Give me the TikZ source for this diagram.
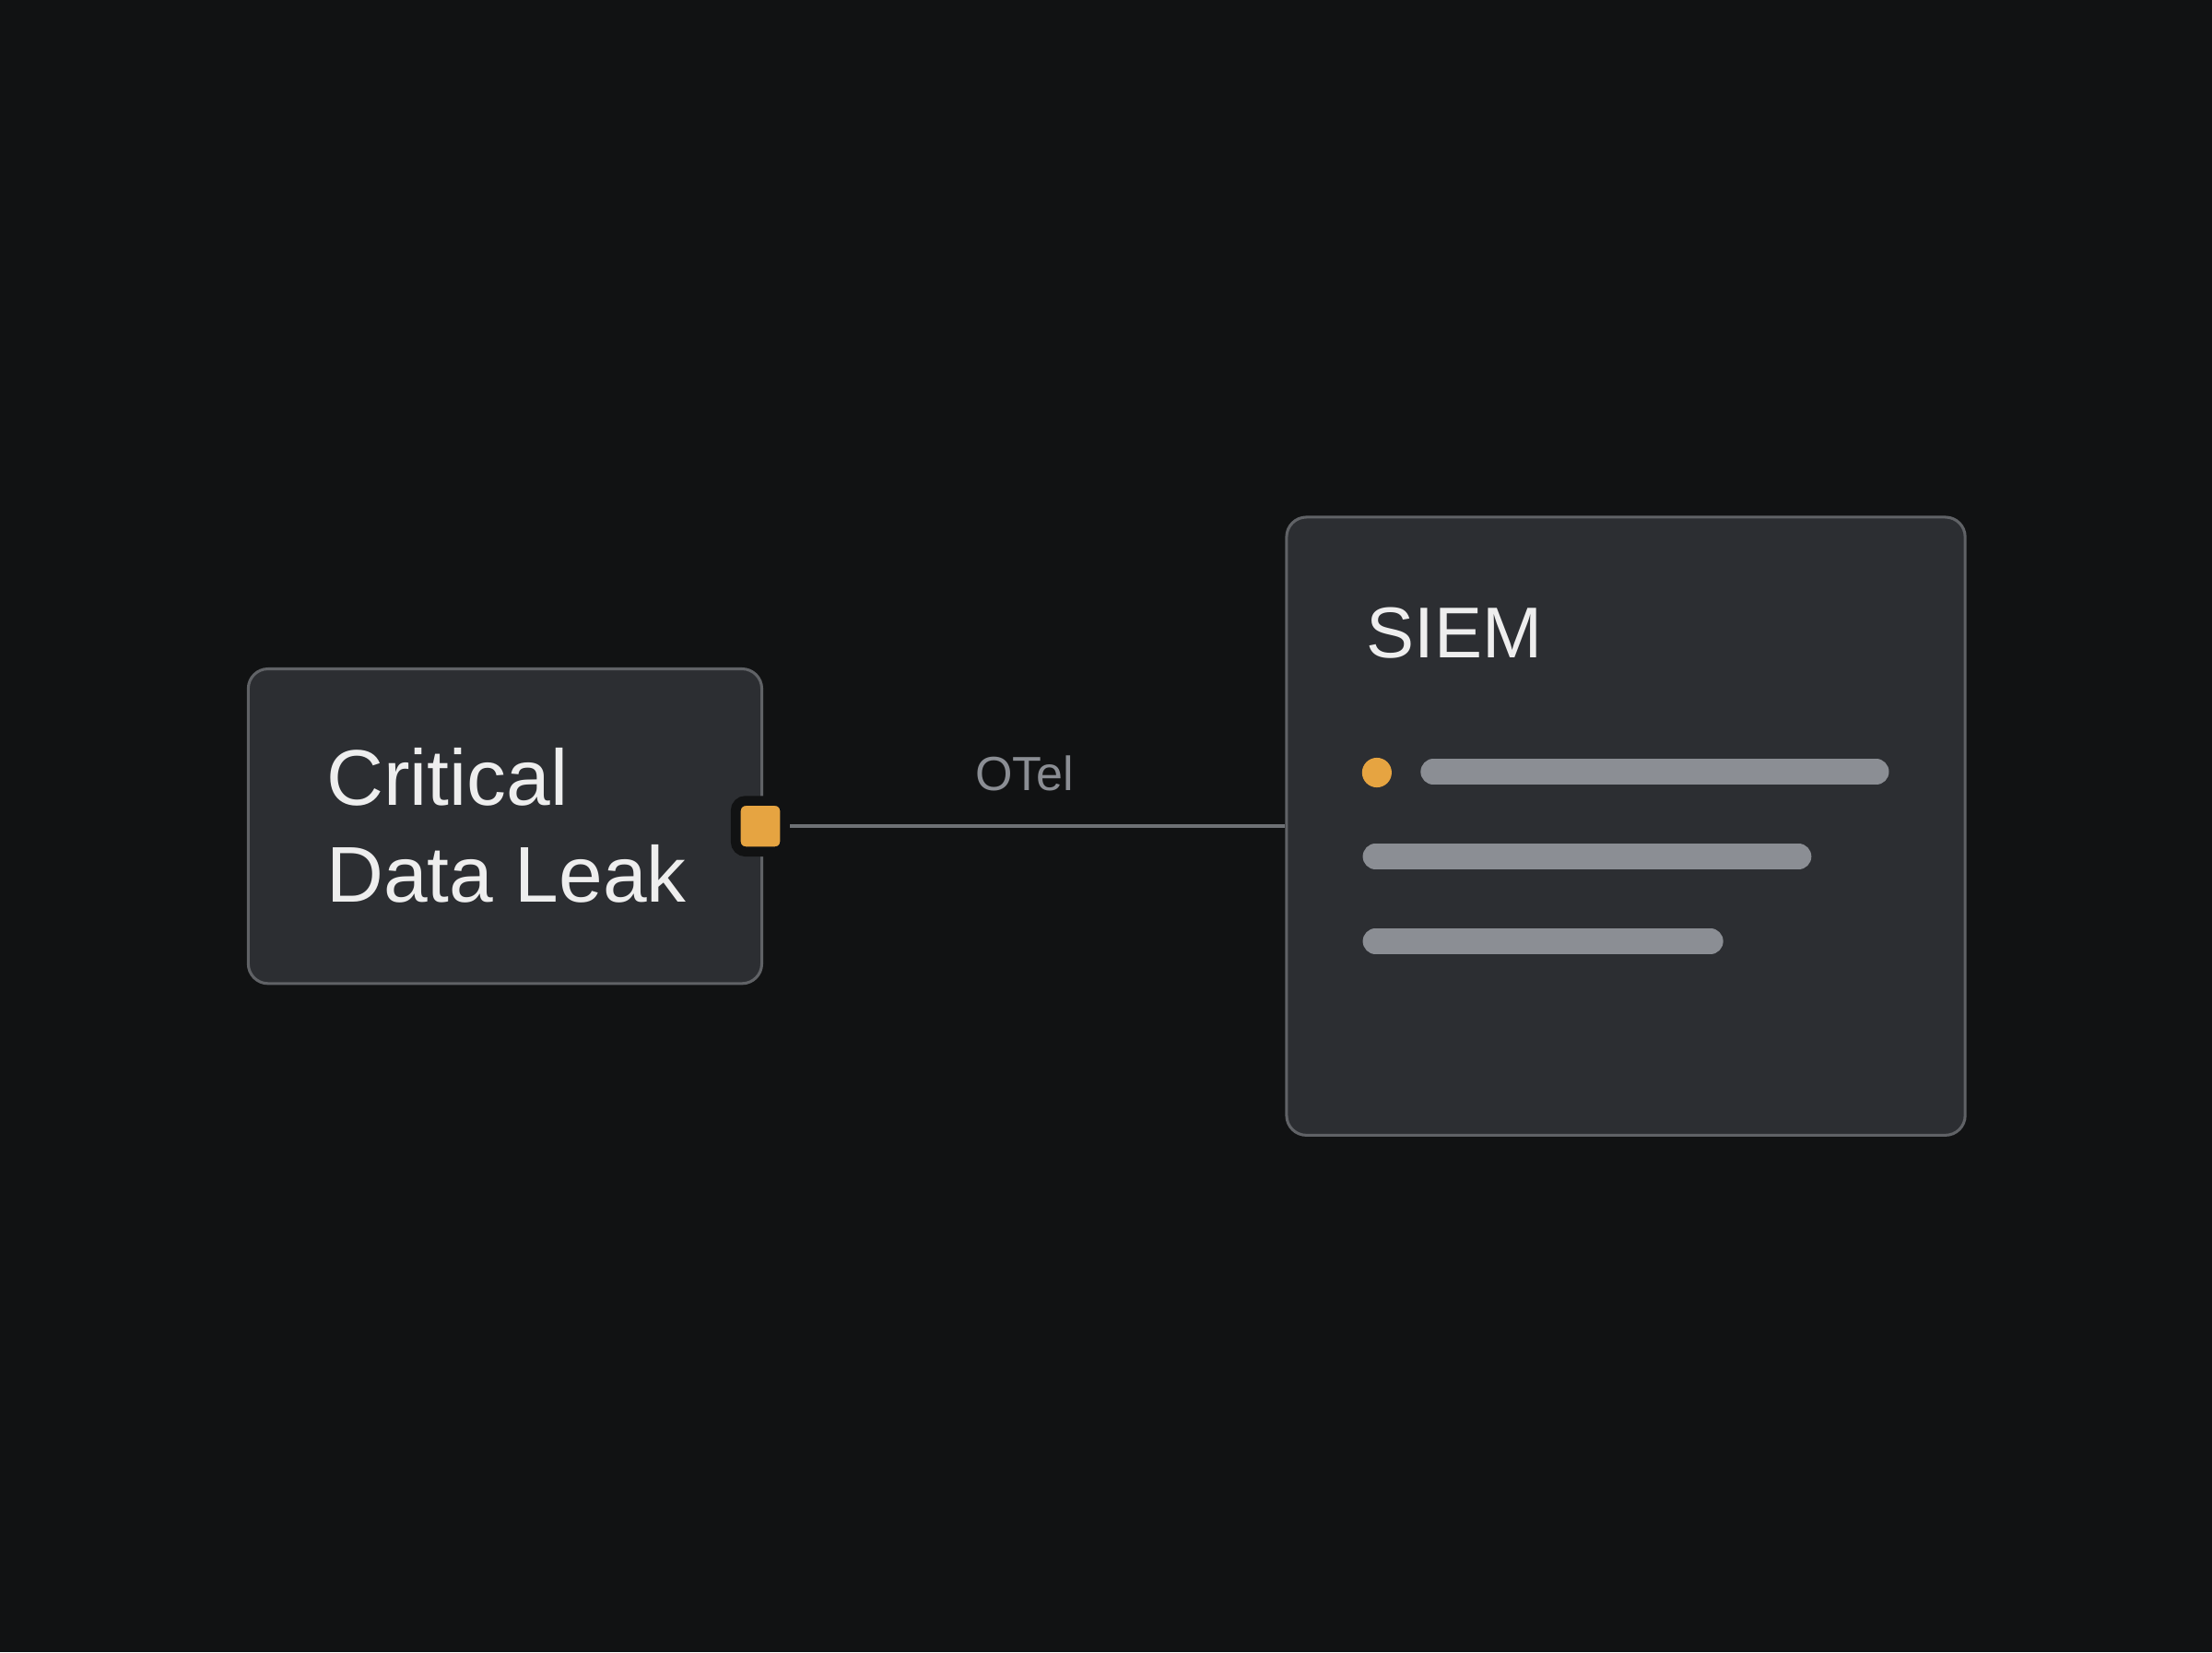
\documentclass[tikz,border=0pt]{standalone}
\usepackage{fontspec}
\setmainfont{Liberation Sans}
\usetikzlibrary{positioning}
\definecolor{bgc}{HTML}{111213}
\definecolor{cardfill}{HTML}{2C2E32}
\definecolor{cardline}{HTML}{606266}
\definecolor{wirec}{HTML}{6E7175}
\definecolor{barc}{HTML}{8B8E94}
\definecolor{accent}{HTML}{E6A441}
\definecolor{textc}{HTML}{EEEEEE}

\begin{document}
\begin{tikzpicture}[x=0.5pt,y=-0.5pt,
    card/.style={draw=cardline, fill=cardfill, line width=1pt, rounded corners=7pt},
    port/.style={fill=accent, draw=bgc, line width=3.5pt, rounded corners=3.5pt, minimum width=17.5pt, minimum height=18pt, inner sep=0pt},
    bar/.style={draw=barc, line width=9pt, line cap=round},
    title/.style={text=textc, inner sep=0pt}]
    \fill[bgc] (0,0) rectangle (1568,1171);
    % the two cards
    \node[card, minimum width=182pt, minimum height=111.5pt] (leak) at (358,585.5) {};
    \node[card, minimum width=240.5pt, minimum height=219pt] (siem) at (1152.5,585.5) {};
    \node[title, anchor=west, align=left, font=\fontsize{28}{34.25}\selectfont] (leaktitle) at (231,585) {Critical\\Data Leak};
    \node[title, anchor=base west, font=\fontsize{25.5}{30}\selectfont] (siemtitle) at (968,466) {SIEM};
    % output port and wire
    \node[port] (port) at ([xshift=-1pt]leak.east) {};
    \draw[wirec, line width=1.3pt] (port.east) -- node[pos=0.474, anchor=base, yshift=12.5pt, inner sep=0pt, text=barc, font=\fontsize{17}{20}\selectfont] (otel) {OTel} (siem.west);
    % log lines
    \fill[accent] (976,547.5) circle (5.25pt);
    \draw[bar] (1016,547) -- (1330,547);
    \draw[bar] (975,607) -- (1275,607);
    \draw[bar] (975,667) -- (1212.5,667);
\end{tikzpicture}
\end{document}
